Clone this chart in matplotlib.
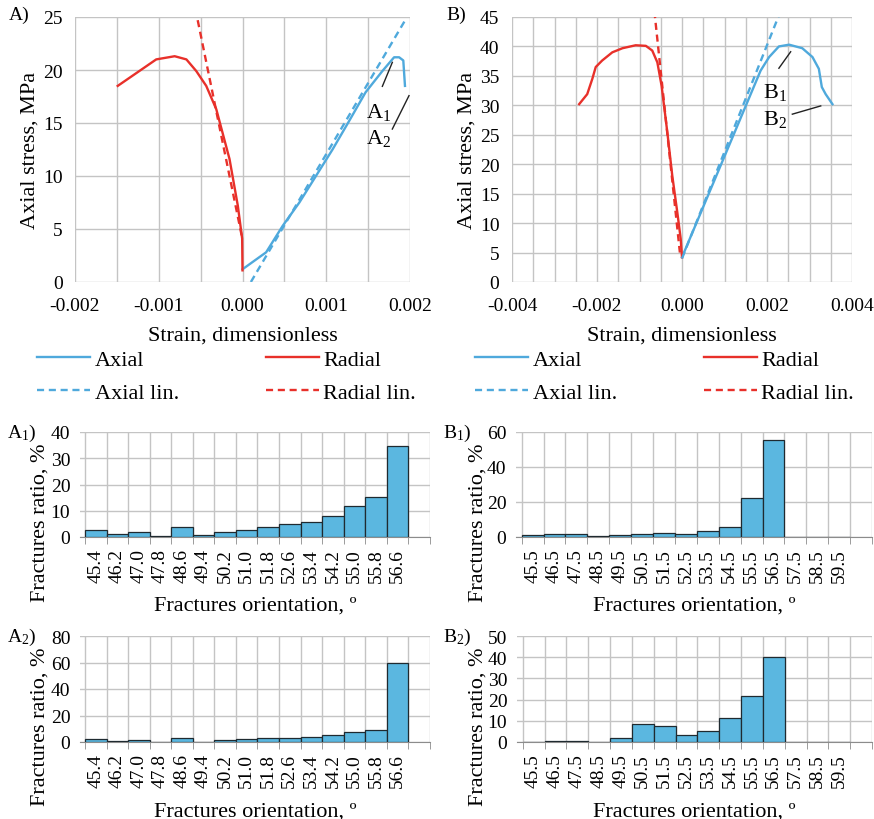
import numpy as np
import matplotlib
matplotlib.use("Agg")
import matplotlib.pyplot as plt
from matplotlib.ticker import MultipleLocator, FixedLocator

plt.rcParams['font.family'] = ['Liberation Serif', 'DejaVu Serif']
plt.rcParams['mathtext.fontset'] = 'custom'
plt.rcParams['mathtext.rm'] = 'Liberation Serif'
plt.rcParams['mathtext.it'] = 'Liberation Serif:italic'

BLUE = "#4FA9DC"
RED = "#E8302A"
BAR = "#5BB7E0"
GRID = "#C4C4C4"

# --- stress-strain curves, sample A
A_axial_strain = [0.0, 0.000123, 0.000282, 0.00048, 0.000679, 0.000877, 0.001075,
                  0.001274, 0.00147, 0.00167, 0.00181, 0.00187, 0.00192, 0.00194]
A_axial_stress = [1.2, 1.9, 2.8, 5.3, 7.5, 10.0, 12.5, 15.2, 17.9, 19.9, 21.2, 21.2, 20.9, 18.5]
A_radial_strain = [-0.00149, -0.00103, -0.00081, -0.00067, -0.000552, -0.000433,
                   -0.000313, -0.000155, -0.000056, -0.000004, 0.0]
A_radial_stress = [18.5, 21.0, 21.3, 21.0, 19.9, 18.5, 16.3, 11.6, 7.2, 4.1, 1.1]
A_axial_lin_strain = [0.0001, 0.00195]
A_axial_lin_stress = [0.0, 24.8]
A_radial_lin_strain = [-0.000535, 0.0]
A_radial_lin_stress = [24.7, 4.0]

# --- stress-strain curves, sample B
B_axial_strain = [0.0, 0.00185, 0.00205, 0.00228, 0.00252, 0.00283, 0.00307,
                  0.00322, 0.00329, 0.00338, 0.00354]
B_axial_stress = [4.2, 35.9, 38.2, 40.0, 40.3, 39.7, 38.2, 36.2, 33.1, 31.9, 30.2]
B_radial_strain = [-0.00242, -0.00223, -0.00211, -0.00203, -0.00188, -0.00164, -0.00140,
                   -0.00109, -0.00085, -0.00070, -0.00058, -0.00048, -0.000345,
                   -0.000228, -0.00011, -0.00003, 0.0]
B_radial_stress = [30.2, 31.9, 34.5, 36.5, 37.6, 39.0, 39.7, 40.2, 40.1, 39.3, 37.3,
                   33.3, 25.4, 18.0, 11.8, 7.3, 4.2]
B_axial_lin_strain = [0.0, 0.00232]
B_axial_lin_stress = [4.0, 46.0]
B_radial_lin_strain = [-0.00065, -0.00005]
B_radial_lin_stress = [46.0, 5.0]

# --- fracture orientation histograms
A_orient = ["45.4", "46.2", "47.0", "47.8", "48.6", "49.4", "50.2", "51.0",
            "51.8", "52.6", "53.4", "54.2", "55.0", "55.8", "56.6"]
A1_ratio = [2.8, 1.3, 1.9, 0.5, 4.0, 0.6, 1.9, 2.8, 4.0, 4.8, 5.8, 8.0, 11.9, 15.2, 34.6]
A2_ratio = [2.2, 1.0, 1.5, 0.1, 2.8, 0.3, 1.3, 2.0, 2.8, 3.3, 3.8, 5.3, 7.3, 9.3, 59.7]
B_orient = ["45.5", "46.5", "47.5", "48.5", "49.5", "50.5", "51.5", "52.5",
            "53.5", "54.5", "55.5", "56.5", "57.5", "58.5", "59.5"]
B1_ratio = [0.9, 1.7, 1.5, 0.8, 1.3, 1.5, 2.1, 1.7, 3.6, 5.9, 22.3, 55.5, 0, 0, 0]
B2_ratio = [0.0, 0.5, 0.3, 0.2, 2.0, 8.6, 7.4, 3.3, 5.0, 11.2, 21.9, 40.1, 0, 0, 0]

W, H = 874, 820
fig = plt.figure(figsize=(W / 100, H / 100), dpi=100)


def box(l, t, r, b):
    return [l / W, 1 - b / H, (r - l) / W, (b - t) / H]


def px_text(x, y, s, **kw):
    # text placed in figure pixels, measured from the top-left corner
    fig.text(x / W, 1 - y / H, s, **kw)


def curve_panel(rect, data, xlim, xmajor, ymax, ystep, notes, legend_x):
    ax = fig.add_axes(box(*rect))
    ax_s, ax_y, rd_s, rd_y, al_s, al_y, rl_s, rl_y = data
    h1, = ax.plot(ax_s, ax_y, color=BLUE, lw=1.7, label="Axial")
    h2, = ax.plot(rd_s, rd_y, color=RED, lw=1.7, label="Radial")
    h3, = ax.plot(al_s, al_y, color=BLUE, lw=1.7, ls=(0, (3, 2)), label="Axial lin.")
    h4, = ax.plot(rl_s, rl_y, color=RED, lw=1.7, ls=(0, (3, 2)), label="Radial lin.")
    ax.set_xlim(*xlim)
    ax.set_ylim(0, ymax)
    ax.xaxis.set_major_locator(MultipleLocator(xmajor))
    ax.xaxis.set_minor_locator(MultipleLocator(0.0005))
    ax.yaxis.set_major_locator(MultipleLocator(ystep))
    ax.xaxis.set_major_formatter(plt.FuncFormatter(lambda v, p: "%.3f" % v))
    ax.grid(True, which="both", color=GRID, lw=1)
    for s in ax.spines.values():
        s.set_visible(False)
    ax.tick_params(which="both", length=0, labelsize=14)
    ax.tick_params(axis="x", pad=11)
    ax.tick_params(axis="y", pad=9)
    ax.set_xlabel("Strain, dimensionless", fontsize=16)
    ax.xaxis.set_label_coords(0.5, -0.165)
    ax.set_ylabel("Axial stress, MPa", fontsize=16)
    ax.yaxis.set_label_coords(-0.105, 0.5)
    for (lx, ly, tx, ty, txt) in notes:
        ax.plot(lx, ly, color="#222222", lw=1.0)
        ax.text(tx, ty, txt, fontsize=16, ha="center", va="center")
    fig.legend([h1, h3, h2, h4], ["Axial", "Axial lin.", "Radial", "Radial lin."],
               loc="upper left", bbox_to_anchor=(legend_x / W, 1 - 350 / H), ncol=2,
               frameon=False, fontsize=16, handlelength=2.4, handletextpad=0.2,
               columnspacing=3.9, labelspacing=0.58, borderpad=0, borderaxespad=0)
    return ax


A_notes = [([0.00167, 0.001789], [18.46, 20.72], 0.00163, 16.1, r"A$_1$"),
           ([0.001789, 0.001988], [14.43, 17.58], 0.00163, 13.6, r"A$_2$")]
B_notes = [([0.00228, 0.002557], [36.3, 39.1], 0.00218, 32.3, r"B$_1$"),
           ([0.002596, 0.003264], [28.5, 29.9], 0.00218, 27.8, r"B$_2$")]

curve_panel((75, 18, 410, 283),
            (A_axial_strain, A_axial_stress, A_radial_strain, A_radial_stress,
             A_axial_lin_strain, A_axial_lin_stress, A_radial_lin_strain, A_radial_lin_stress),
            (-0.002, 0.002), 0.001, 25, 5, A_notes, 37)
curve_panel((512, 18, 852, 283),
            (B_axial_strain, B_axial_stress, B_radial_strain, B_radial_stress,
             B_axial_lin_strain, B_axial_lin_stress, B_radial_lin_strain, B_radial_lin_stress),
            (-0.004, 0.004), 0.002, 45, 5, B_notes, 475)
px_text(9, 15, "A)", fontsize=14, ha="left", va="center")
px_text(446, 15, "B)", fontsize=14, ha="left", va="center")


def hist_panel(rect, labels, values, ymax, ystep, left, ylab_x):
    ax = fig.add_axes(box(*rect))
    x = np.arange(len(labels))
    ax.bar(x, values, width=1.0, color=BAR, edgecolor="#1F2A30", lw=0.9, zorder=3)
    ax.set_xlim(left, len(labels) + 0.5)
    ax.set_ylim(0, ymax)
    ax.set_xticks(x)
    ax.set_xticklabels(labels, rotation=90, fontsize=14)
    ax.xaxis.set_minor_locator(FixedLocator(np.arange(len(labels) + 2) - 0.5))
    ax.yaxis.set_major_locator(MultipleLocator(ystep))
    ax.grid(True, axis="y", color=GRID, lw=1, zorder=0)
    ax.grid(True, axis="x", which="minor", color=GRID, lw=1, zorder=0)
    for k in ["top", "right", "left"]:
        ax.spines[k].set_visible(False)
    ax.spines["bottom"].set_color("#8C8C8C")
    ax.tick_params(axis="x", which="major", length=0, pad=8)
    ax.tick_params(axis="x", which="minor", length=5, color="#8C8C8C")
    ax.tick_params(axis="y", length=0, labelsize=14, pad=7)
    ax.set_xlabel("Fractures orientation, º", fontsize=16)
    ax.xaxis.set_label_coords(0.5, -0.56)
    ax.set_ylabel("Fractures ratio, %", fontsize=16)
    ax.yaxis.set_label_coords((ylab_x - rect[0]) / (rect[2] - rect[0]), 0.15)
    return ax


hist_panel((80, 433, 430, 538), A_orient, A1_ratio, 40, 10, -0.73, 50)
hist_panel((516, 433, 872, 538), B_orient, B1_ratio, 60, 20, -0.76, 488)
hist_panel((80, 637, 430, 743), A_orient, A2_ratio, 80, 20, -0.73, 50)
hist_panel((517, 637, 872, 743), B_orient, B2_ratio, 50, 10, -0.76, 488)

px_text(7, 433, r"A$_1$)", fontsize=14, ha="left", va="center")
px_text(443, 433, r"B$_1$)", fontsize=14, ha="left", va="center")
px_text(7, 637, r"A$_2$)", fontsize=14, ha="left", va="center")
px_text(443, 637, r"B$_2$)", fontsize=14, ha="left", va="center")

fig.savefig("out.png", dpi=100)
